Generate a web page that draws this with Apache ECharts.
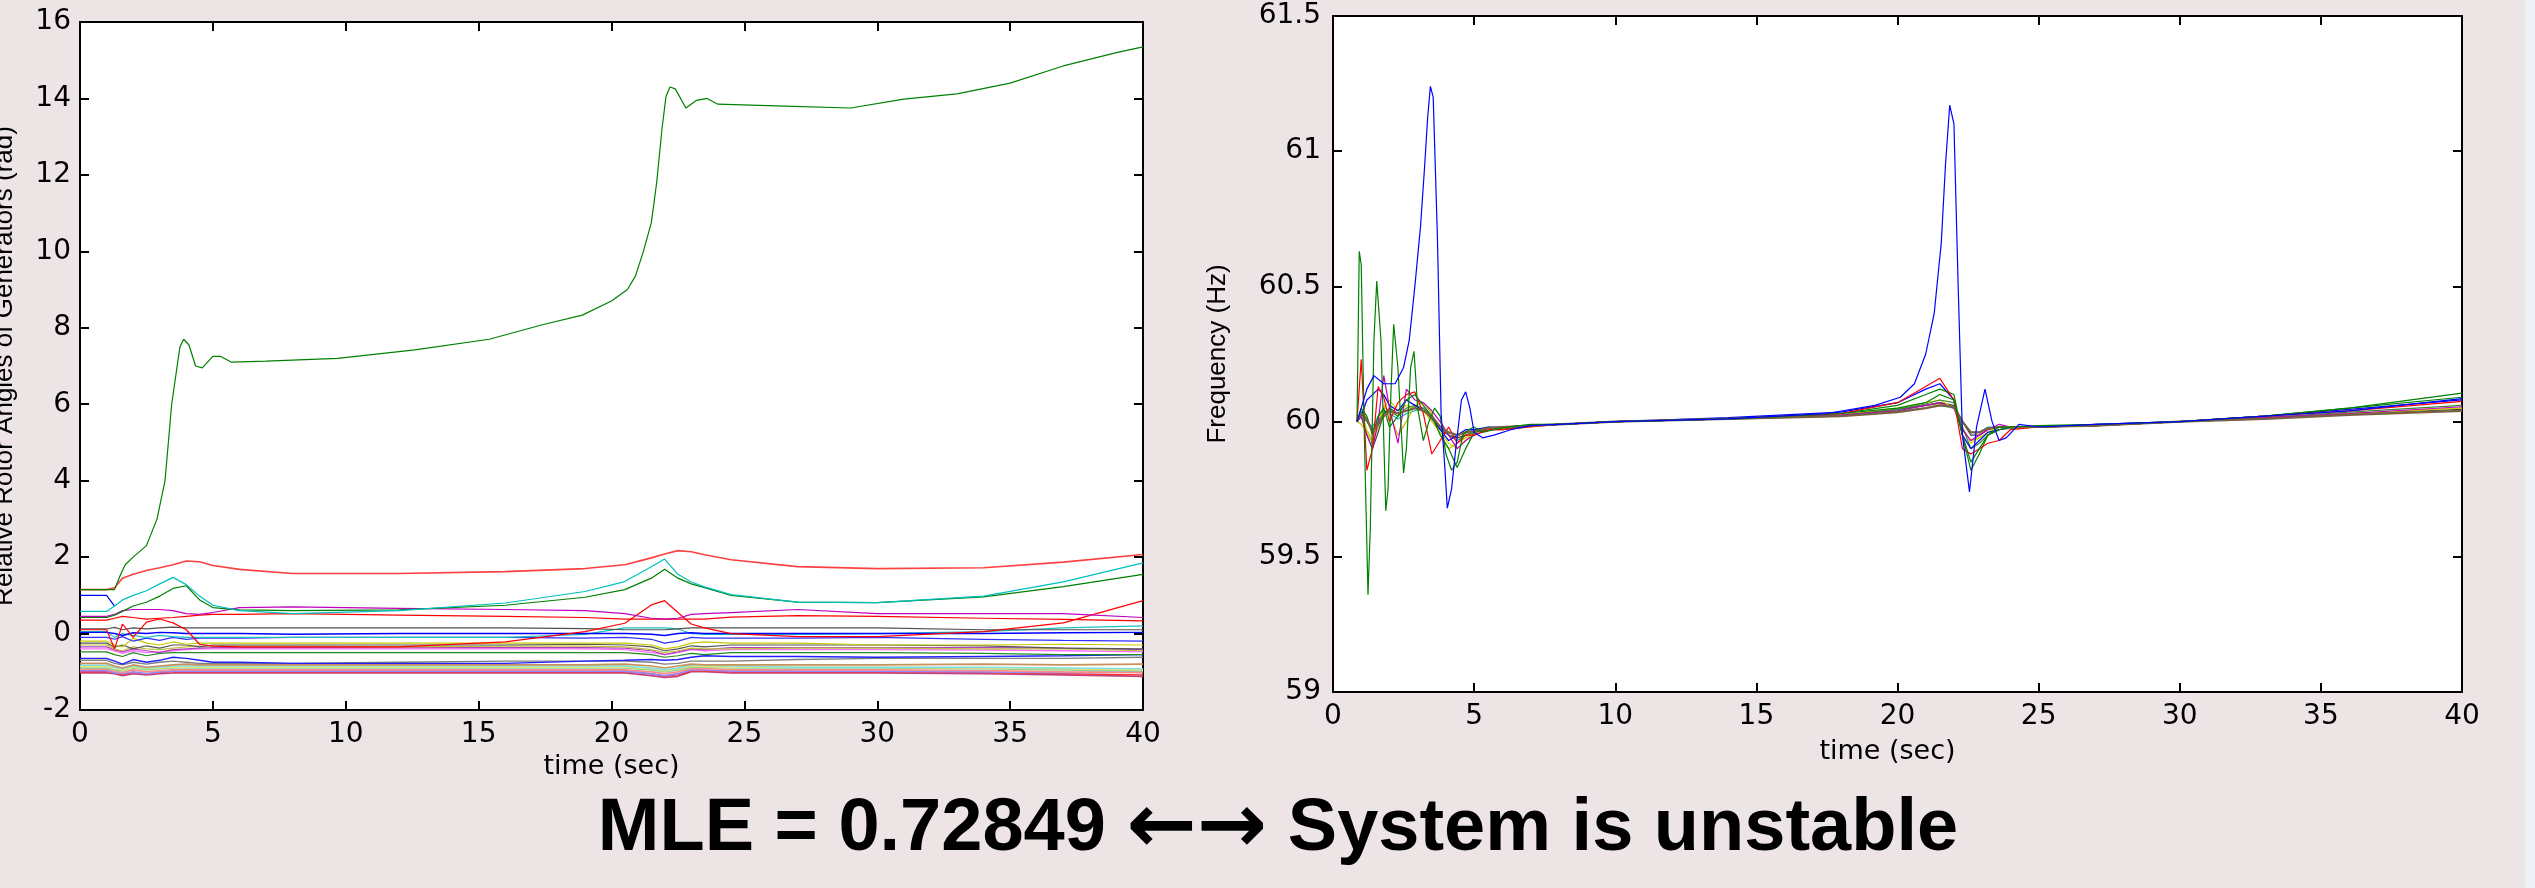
<!DOCTYPE html>
<html><head><meta charset="utf-8">
<script src="https://cdn.jsdelivr.net/npm/echarts/dist/echarts.min.js"></script>
<style>html,body{margin:0;padding:0;background:#ede4e5;}#c{width:2535px;height:888px;}</style>
</head><body><div id="c"></div>
<script>
// ---------------- DATA: left chart (relative rotor angles, rad) ----------------
const timeTicks = [0, 5, 10, 15, 20, 25, 30, 35, 40];
const angleTicks = [-2, 0, 2, 4, 6, 8, 10, 12, 14, 16];
const freqTicks = [59, 59.5, 60, 60.5, 61, 61.5];

const angleTime = [0, 1, 1.3, 1.6, 2, 2.5, 3, 3.5, 4, 4.5, 5, 6, 8, 12, 16, 19, 20.5, 21.5, 22, 22.5, 23, 23.5, 24.5, 27, 30, 34, 37, 40];

const angleBigGreenTime = [0, 1.3, 1.5, 1.7, 2.0, 2.5, 2.9, 3.2, 3.45, 3.76, 3.9, 4.1, 4.35, 4.6, 5.0, 5.3, 5.7, 7, 9.7, 12.6, 15.4, 17.4, 18.9, 20, 20.6, 20.9, 21.2, 21.5, 21.7, 21.9, 22.05, 22.2, 22.4, 22.8, 23.2, 23.6, 24, 26.5, 29, 31, 33, 35, 37, 39, 40];
const angleBigGreen = [1.15, 1.15, 1.5, 1.8, 2.0, 2.3, 3.0, 4.0, 6.0, 7.5, 7.7, 7.55, 7.0, 6.95, 7.25, 7.25, 7.1, 7.13, 7.2, 7.42, 7.7, 8.08, 8.33, 8.7, 9.0, 9.35, 10.0, 10.75, 11.8, 13.2, 14.05, 14.3, 14.25, 13.75, 13.95, 14.0, 13.85, 13.8, 13.75, 13.98, 14.12, 14.4, 14.85, 15.2, 15.35];

const angleBlueStartTime = [0, 1, 1.3];
const angleBlueStart = [1.0, 1.0, 0.72];

const angleRedTop  = [1.15, 1.15, 1.2, 1.45, 1.55, 1.65, 1.72, 1.8, 1.9, 1.88, 1.78, 1.68, 1.57, 1.57, 1.62, 1.7, 1.8, 1.98, 2.08, 2.17, 2.14, 2.06, 1.93, 1.75, 1.7, 1.72, 1.87, 2.07];
const angleCyanTop = [0.58, 0.58, 0.72, 0.88, 1.0, 1.12, 1.3, 1.47, 1.28, 0.98, 0.74, 0.6, 0.52, 0.6, 0.8, 1.1, 1.36, 1.75, 1.95, 1.55, 1.35, 1.22, 1.02, 0.82, 0.81, 0.98, 1.35, 1.85];
const angleGreen2  = [0.42, 0.42, 0.48, 0.58, 0.72, 0.82, 0.98, 1.18, 1.25, 0.88, 0.68, 0.62, 0.6, 0.62, 0.74, 0.95, 1.15, 1.45, 1.68, 1.45, 1.3, 1.2, 1.0, 0.82, 0.81, 0.96, 1.23, 1.55];
const angleMagenta = [0.45, 0.45, 0.5, 0.6, 0.63, 0.63, 0.63, 0.6, 0.52, 0.5, 0.55, 0.68, 0.7, 0.66, 0.63, 0.6, 0.52, 0.4, 0.38, 0.4, 0.5, 0.52, 0.55, 0.63, 0.52, 0.52, 0.52, 0.42];
const angleRed2    = [0.35, 0.35, 0.4, 0.45, 0.42, 0.38, 0.4, 0.42, 0.45, 0.48, 0.5, 0.5, 0.52, 0.48, 0.45, 0.42, 0.38, 0.38, 0.38, 0.38, 0.38, 0.38, 0.43, 0.47, 0.45, 0.4, 0.37, 0.33];
const angleRed3    = [0.1, 0.1, -0.4, 0.25, -0.1, 0.3, 0.38, 0.28, 0.1, -0.28, -0.33, -0.35, -0.35, -0.35, -0.22, 0.05, 0.27, 0.75, 0.86, 0.55, 0.25, 0.15, 0.0, -0.08, -0.08, 0.05, 0.28, 0.86];
const angleGray1   = [0.12, 0.12, 0.16, 0.1, 0.15, 0.12, 0.15, 0.17, 0.15, 0.15, 0.15, 0.15, 0.15, 0.15, 0.15, 0.13, 0.1, 0.1, 0.1, 0.12, 0.15, 0.15, 0.15, 0.15, 0.15, 0.1, 0.1, 0.1];
const angleBlue2   = [0.03, 0.03, 0.0, -0.05, 0.02, 0.0, 0.03, 0.02, 0.0, 0.0, 0.0, 0.0, -0.02, 0.0, 0.0, 0.0, 0.0, -0.02, -0.05, 0.0, 0.02, 0.0, 0.0, 0.0, 0.0, 0.0, 0.02, 0.03];
const angleCyan2   = [0.05, 0.05, -0.1, 0.0, -0.05, -0.1, -0.05, -0.08, -0.1, -0.1, -0.1, -0.1, -0.1, -0.1, -0.1, -0.02, 0.15, 0.15, 0.15, 0.12, 0.0, -0.02, -0.02, -0.02, 0.0, 0.05, 0.15, 0.2];
const angleBlue3   = [-0.1, -0.1, -0.15, -0.08, -0.2, -0.12, -0.18, -0.1, -0.15, -0.12, -0.12, -0.12, -0.1, -0.1, -0.1, -0.12, -0.1, -0.15, -0.25, -0.2, -0.1, -0.12, -0.12, -0.12, -0.1, -0.15, -0.18, -0.2];
const angleYellow1 = [-0.2, -0.2, -0.3, -0.35, -0.12, -0.25, -0.3, -0.22, -0.28, -0.25, -0.25, -0.25, -0.25, -0.25, -0.25, -0.25, -0.25, -0.3, -0.4, -0.35, -0.25, -0.22, -0.25, -0.25, -0.3, -0.3, -0.28, -0.3];
const angleGray2   = [-0.25, -0.25, -0.35, -0.3, -0.4, -0.32, -0.38, -0.3, -0.3, -0.35, -0.3, -0.3, -0.3, -0.3, -0.3, -0.28, -0.3, -0.35, -0.45, -0.4, -0.32, -0.35, -0.3, -0.3, -0.3, -0.32, -0.38, -0.4];
const angleOlive   = [-0.3, -0.3, -0.4, -0.45, -0.35, -0.4, -0.42, -0.38, -0.35, -0.33, -0.33, -0.33, -0.33, -0.35, -0.33, -0.33, -0.35, -0.42, -0.5, -0.45, -0.38, -0.4, -0.4, -0.38, -0.38, -0.4, -0.4, -0.45];
const angleViolet  = [-0.35, -0.35, -0.42, -0.48, -0.4, -0.45, -0.5, -0.42, -0.4, -0.38, -0.37, -0.37, -0.37, -0.37, -0.37, -0.37, -0.38, -0.45, -0.55, -0.48, -0.4, -0.42, -0.37, -0.37, -0.37, -0.37, -0.38, -0.42];
const anglePink1   = [-0.4, -0.4, -0.45, -0.52, -0.45, -0.5, -0.48, -0.45, -0.42, -0.4, -0.4, -0.4, -0.4, -0.4, -0.4, -0.4, -0.42, -0.5, -0.55, -0.5, -0.42, -0.45, -0.42, -0.42, -0.42, -0.43, -0.45, -0.48];
const angleGreen3  = [-0.48, -0.48, -0.55, -0.6, -0.5, -0.58, -0.52, -0.5, -0.5, -0.5, -0.5, -0.5, -0.5, -0.5, -0.5, -0.5, -0.5, -0.55, -0.62, -0.58, -0.52, -0.55, -0.5, -0.5, -0.5, -0.52, -0.55, -0.55];
const angleBlue4   = [-0.65, -0.65, -0.72, -0.8, -0.68, -0.75, -0.7, -0.62, -0.65, -0.7, -0.75, -0.75, -0.78, -0.78, -0.78, -0.72, -0.7, -0.68, -0.7, -0.68, -0.62, -0.58, -0.6, -0.6, -0.62, -0.6, -0.58, -0.55];
const angleGray3   = [-0.7, -0.7, -0.78, -0.82, -0.75, -0.8, -0.75, -0.72, -0.75, -0.78, -0.78, -0.78, -0.78, -0.75, -0.72, -0.72, -0.72, -0.75, -0.8, -0.78, -0.72, -0.72, -0.72, -0.68, -0.65, -0.65, -0.65, -0.62];
const angleTan     = [-0.78, -0.78, -0.85, -0.9, -0.82, -0.88, -0.85, -0.82, -0.8, -0.82, -0.82, -0.82, -0.82, -0.82, -0.82, -0.82, -0.8, -0.85, -0.9, -0.85, -0.8, -0.82, -0.82, -0.82, -0.82, -0.8, -0.82, -0.8];
const angleLtCyan  = [-0.83, -0.83, -0.88, -0.92, -0.85, -0.9, -0.88, -0.85, -0.85, -0.85, -0.85, -0.85, -0.85, -0.85, -0.85, -0.85, -0.85, -0.9, -0.95, -0.9, -0.82, -0.82, -0.85, -0.88, -0.88, -0.88, -0.9, -0.92];
const angleLtYellow= [-0.86, -0.86, -0.9, -0.95, -0.88, -0.92, -0.9, -0.88, -0.88, -0.88, -0.88, -0.88, -0.88, -0.88, -0.88, -0.88, -0.88, -0.92, -0.98, -0.92, -0.85, -0.86, -0.88, -0.88, -0.88, -0.9, -0.92, -0.95];
const angleLtGreen = [-0.9, -0.9, -0.95, -0.98, -0.9, -0.95, -0.92, -0.9, -0.9, -0.9, -0.9, -0.9, -0.9, -0.9, -0.9, -0.9, -0.9, -0.95, -1.0, -0.95, -0.88, -0.88, -0.9, -0.9, -0.9, -0.92, -0.95, -0.98];
const anglePink2   = [-0.93, -0.93, -0.98, -1.02, -0.95, -1.0, -0.97, -0.95, -0.95, -0.95, -0.95, -0.95, -0.95, -0.95, -0.95, -0.95, -0.95, -1.0, -1.05, -1.0, -0.92, -0.92, -0.95, -0.95, -0.95, -0.97, -1.0, -1.02];
const angleLtBlue  = [-0.97, -0.97, -1.02, -1.05, -1.0, -1.05, -1.0, -0.98, -0.98, -0.98, -0.98, -0.98, -0.98, -0.98, -0.98, -0.98, -0.98, -1.05, -1.1, -1.05, -0.95, -0.95, -0.98, -0.98, -0.98, -1.0, -1.02, -1.0];
const angleRed4    = [-1.0, -1.0, -1.03, -1.08, -1.02, -1.06, -1.02, -1.0, -1.0, -1.0, -1.0, -1.0, -1.0, -1.0, -1.0, -1.0, -1.0, -1.05, -1.12, -1.08, -0.98, -0.98, -1.0, -1.0, -1.0, -1.02, -1.05, -1.08];
const angleMaroon  = [-1.03, -1.03, -1.05, -1.1, -1.05, -1.08, -1.05, -1.03, -1.03, -1.03, -1.03, -1.03, -1.03, -1.03, -1.03, -1.03, -1.03, -1.1, -1.15, -1.12, -1.0, -1.0, -1.03, -1.03, -1.03, -1.05, -1.08, -1.12];

// ---------------- DATA: right chart (frequency, Hz) ----------------
const freqTime = [0.85, 1.0, 1.2, 1.4, 1.6, 1.8, 2.0, 2.3, 2.6, 2.9, 3.2, 3.5, 3.8, 4.1, 4.4, 4.7, 5.0, 5.5, 6, 7, 8, 10, 14, 18, 20, 21, 21.5, 22, 22.3, 22.6, 22.9, 23.2, 23.6, 24, 25, 27, 30, 33, 36, 40];

const freqBlueTime = [0.85, 1.0, 1.2, 1.45, 1.8, 2.2, 2.5, 2.7, 2.9, 3.1, 3.25, 3.35, 3.45, 3.55, 3.7, 3.83, 3.95, 4.05, 4.2, 4.35, 4.55, 4.7, 4.85, 5.0, 5.3, 5.7, 6.3, 7, 8, 10, 14, 17.5, 19.2, 20.1, 20.6, 21.0, 21.3, 21.55, 21.7, 21.85, 22.0, 22.15, 22.3, 22.55, 22.8, 23.1, 23.35, 23.6, 23.85, 24.3, 25, 27, 30, 33, 36, 40];
const freqBlue = [60.0, 60.05, 60.12, 60.17, 60.14, 60.14, 60.2, 60.3, 60.5, 60.72, 60.95, 61.12, 61.24, 61.2, 60.68, 60.03, 59.85, 59.68, 59.75, 59.9, 60.08, 60.11, 60.05, 59.96, 59.94, 59.95, 59.97, 59.985, 59.99, 60.0, 60.01, 60.03, 60.06, 60.09, 60.14, 60.25, 60.4, 60.66, 60.95, 61.17, 61.1, 60.5, 59.95, 59.74, 59.98, 60.12, 60.0, 59.93, 59.94, 59.99, 59.98, 59.99, 60.0, 60.02, 60.04, 60.085];

const freqGreenTime = [0.85, 0.93, 1.0, 1.1, 1.24, 1.32, 1.45, 1.55, 1.7, 1.87, 1.95, 2.05, 2.15, 2.3, 2.5, 2.6, 2.75, 2.87, 3.0, 3.2, 3.4, 3.6, 3.8, 4.0, 4.2, 4.4, 4.6, 4.8, 5.0, 5.3, 5.7, 6.2, 7, 8, 10, 14, 18, 20, 21, 21.5, 22, 22.3, 22.6, 22.9, 23.2, 23.6, 24, 25, 27, 30, 33, 36, 40];
const freqGreen = [60.0, 60.63, 60.58, 60.0, 59.36, 59.6, 60.3, 60.52, 60.3, 59.67, 59.75, 60.1, 60.36, 60.2, 59.81, 59.9, 60.2, 60.26, 60.05, 59.93, 60.0, 60.05, 60.02, 59.88, 59.82, 59.85, 59.95, 59.97, 59.98, 59.96, 59.97, 59.98, 59.99, 59.99, 60.0, 60.01, 60.03, 60.05, 60.07, 60.1, 60.08, 59.95, 59.85, 59.9, 59.95, 59.98, 59.98, 59.985, 59.99, 60.0, 60.02, 60.05, 60.09];

const freqRed      = [60.0, 60.23, 59.82, 59.9, 60.13, 60.09, 60.0, 60.07, 60.1, 60.11, 60.03, 59.88, 59.93, 59.98, 59.92, 59.95, 59.95, 59.97, 59.97, 59.98, 59.99, 60.0, 60.01, 60.03, 60.07, 60.13, 60.16, 60.08, 59.9, 59.88, 59.9, 59.92, 59.93, 59.97, 59.98, 59.985, 60.0, 60.02, 60.04, 60.075];
const freqMagenta  = [60.0, 60.02, 59.95, 59.9, 60.0, 60.17, 60.05, 59.92, 60.12, 60.08, 60.07, 60.04, 60.0, 59.95, 59.9, 59.93, 59.95, 59.97, 59.97, 59.985, 59.99, 60.0, 60.01, 60.025, 60.04, 60.06, 60.07, 60.05, 59.97, 59.93, 59.95, 59.97, 59.99, 59.98, 59.98, 59.985, 60.0, 60.015, 60.03, 60.055];
const freqGreen2   = [60.0, 60.05, 60.02, 59.95, 60.02, 60.05, 59.98, 60.02, 60.08, 60.1, 60.06, 60.02, 59.95, 59.9, 59.83, 59.9, 59.96, 59.98, 59.97, 59.985, 59.99, 60.0, 60.01, 60.03, 60.06, 60.1, 60.12, 60.1, 59.95, 59.82, 59.88, 59.95, 59.97, 59.98, 59.98, 59.985, 60.0, 60.02, 60.05, 60.105];
const freqBlue2    = [60.0, 60.02, 60.08, 60.1, 60.12, 60.1, 60.06, 60.04, 60.08, 60.06, 60.04, 60.02, 59.97, 59.93, 59.95, 59.97, 59.97, 59.98, 59.98, 59.985, 59.99, 60.0, 60.015, 60.035, 60.07, 60.12, 60.14, 60.08, 59.95, 59.9, 59.93, 59.96, 59.97, 59.98, 59.98, 59.99, 60.0, 60.02, 60.045, 60.08];
const freqYellow   = [60.0, 60.03, 59.97, 59.93, 60.0, 60.05, 60.08, 60.04, 60.06, 60.05, 60.04, 60.0, 59.96, 59.92, 59.9, 59.93, 59.96, 59.97, 59.975, 59.985, 59.99, 60.0, 60.01, 60.025, 60.05, 60.07, 60.08, 60.05, 59.98, 59.92, 59.94, 59.96, 59.98, 59.98, 59.98, 59.985, 60.0, 60.015, 60.03, 60.05];
const freqGray     = [60.0, 60.02, 59.95, 59.9, 59.96, 60.03, 60.05, 60.03, 60.04, 60.05, 60.04, 60.01, 59.97, 59.95, 59.94, 59.95, 59.96, 59.97, 59.975, 59.985, 59.99, 60.0, 60.01, 60.025, 60.045, 60.06, 60.07, 60.06, 60.0, 59.95, 59.95, 59.97, 59.98, 59.98, 59.98, 59.985, 60.0, 60.015, 60.03, 60.045];
const freqCyan     = [60.0, 60.04, 60.0, 59.98, 60.02, 60.04, 60.03, 60.01, 60.03, 60.04, 60.05, 60.02, 59.98, 59.96, 59.95, 59.96, 59.97, 59.975, 59.98, 59.985, 59.99, 60.0, 60.01, 60.02, 60.04, 60.05, 60.06, 60.05, 60.0, 59.96, 59.96, 59.98, 59.98, 59.98, 59.98, 59.985, 60.0, 60.01, 60.03, 60.04];
const freqOlive    = [60.0, 59.99, 59.96, 59.92, 59.98, 60.06, 60.03, 59.95, 60.0, 60.06, 60.07, 60.03, 59.95, 59.9, 59.92, 59.94, 59.96, 59.97, 59.975, 59.985, 59.99, 60.0, 60.01, 60.02, 60.04, 60.06, 60.065, 60.05, 59.97, 59.93, 59.94, 59.96, 59.98, 59.98, 59.98, 59.985, 60.0, 60.012, 60.028, 60.05];
const freqDkGreen  = [60.0, 60.02, 60.0, 59.97, 60.0, 60.03, 60.04, 60.02, 60.05, 60.06, 60.05, 60.02, 59.98, 59.95, 59.93, 59.95, 59.96, 59.97, 59.98, 59.985, 59.99, 60.0, 60.01, 60.022, 60.045, 60.065, 60.08, 60.07, 59.98, 59.9, 59.92, 59.95, 59.97, 59.975, 59.98, 59.985, 60.0, 60.015, 60.035, 60.06];
const freqBrown    = [60.0, 60.03, 60.01, 59.96, 59.99, 60.02, 60.04, 60.03, 60.04, 60.05, 60.04, 60.02, 59.98, 59.96, 59.95, 59.96, 59.965, 59.975, 59.98, 59.985, 59.99, 60.0, 60.01, 60.02, 60.035, 60.05, 60.06, 60.055, 60.0, 59.96, 59.96, 59.975, 59.98, 59.98, 59.98, 59.985, 60.0, 60.01, 60.025, 60.04];

// ---------------- build ----------------
function pairs(t, v) { return t.map((x, i) => [x, v[i]]); }

const leftSeriesDefs = [
  [angleTime, angleMaroon, '#c0407f', 1.6],
  [angleTime, angleRed4, '#ff3030', 1.4],
  [angleTime, angleLtBlue, '#8c8cff', 1.8],
  [angleTime, anglePink2, '#ff8c8c', 1.8],
  [angleTime, angleLtGreen, '#8fd08f', 1.6],
  [angleTime, angleLtYellow, '#e4e47a', 1.6],
  [angleTime, angleLtCyan, '#80e0e0', 1.6],
  [angleTime, angleTan, '#c8905a', 1.6],
  [angleTime, angleGray3, '#7f7f7f', 1.4],
  [angleTime, angleBlue4, '#2020ff', 1.4],
  [angleTime, angleGreen3, '#208a20', 1.2],
  [angleTime, anglePink1, '#ff70ff', 1.4],
  [angleTime, angleViolet, '#b040c0', 1.2],
  [angleTime, angleOlive, '#c0c040', 1.2],
  [angleTime, angleGray2, '#555555', 1.2],
  [angleTime, angleYellow1, '#c8c800', 1.2],
  [angleTime, angleBlue3, '#3030ff', 1.2],
  [angleTime, angleCyan2, '#20c0c0', 1.2],
  [angleTime, angleBlue2, '#0000ff', 1.4],
  [angleTime, angleGray1, '#505050', 1.2],
  [angleTime, angleRed3, '#ff0000', 1.2],
  [angleTime, angleRed2, '#ff0000', 1.2],
  [angleTime, angleMagenta, '#bf00bf', 1.2],
  [angleBlueStartTime, angleBlueStart, '#0000ff', 1.2],
  [angleTime, angleGreen2, '#008000', 1.2],
  [angleTime, angleCyanTop, '#00bfbf', 1.2],
  [angleTime, angleRedTop, '#ff4040', 1.6],
  [angleBigGreenTime, angleBigGreen, '#008000', 1.2]
];

const rightSeriesDefs = [
  [freqTime, freqCyan, '#00bfbf', 1.2],
  [freqTime, freqOlive, '#bfbf00', 1.2],
  [freqTime, freqGray, '#404040', 1.2],
  [freqTime, freqYellow, '#d0d000', 1.2],
  [freqTime, freqDkGreen, '#3a8a3a', 1.2],
  [freqTime, freqBlue2, '#0000ff', 1.2],
  [freqTime, freqMagenta, '#bf00bf', 1.2],
  [freqTime, freqGreen2, '#008000', 1.2],
  [freqTime, freqRed, '#ff0000', 1.2],
  [freqTime, freqBrown, '#7a6040', 2.2],
  [freqGreenTime, freqGreen, '#008000', 1.2],
  [freqBlueTime, freqBlue, '#0000ff', 1.2]
];

const series = [];
leftSeriesDefs.forEach((d, i) => series.push({
  type: 'line', xAxisIndex: 0, yAxisIndex: 0, data: pairs(d[0], d[1]),
  showSymbol: false, symbol: 'none', silent: true, z: 2 + i * 0.01,
  lineStyle: { color: d[2], width: d[3] }
}));
rightSeriesDefs.forEach((d, i) => series.push({
  type: 'line', xAxisIndex: 2, yAxisIndex: 2, data: pairs(d[0], d[1]),
  showSymbol: false, symbol: 'none', silent: true, z: 2 + i * 0.01,
  lineStyle: { color: d[2], width: d[3] }
}));

const HFONT = 'DejaVu Sans';
const VFONT = 'Liberation Sans';
const frameLine = { show: true, onZero: false, lineStyle: { color: '#000', width: 2 } };
const tick = { show: true, inside: true, length: 9, lineStyle: { color: '#000', width: 2 } };

function xMain(grid, gap, pad) {
  return {
    gridIndex: grid, type: 'value', position: 'bottom', min: timeTicks[0], max: timeTicks[timeTicks.length - 1], interval: 5,
    axisLine: frameLine, axisTick: tick, splitLine: { show: false },
    axisLabel: { color: '#000', fontSize: 28, fontFamily: HFONT, margin: 11 },
    name: 'time (sec)', nameLocation: 'middle', nameGap: gap,
    nameTextStyle: { color: '#000', fontSize: 27, fontFamily: HFONT, padding: pad }
  };
}
function xTop(grid) {
  return {
    gridIndex: grid, type: 'value', position: 'top', min: timeTicks[0], max: timeTicks[timeTicks.length - 1], interval: 5,
    axisLine: frameLine, axisTick: tick, axisLabel: { show: false }, splitLine: { show: false }
  };
}
function yMain(grid, mn, mx, iv, name, gap, margin, nameSize) {
  return {
    gridIndex: grid, type: 'value', position: 'left', min: mn, max: mx, interval: iv,
    axisLine: frameLine, axisTick: tick, splitLine: { show: false },
    axisLabel: { color: '#000', fontSize: 28, fontFamily: HFONT, margin: margin },
    name: name, nameLocation: 'middle', nameGap: gap,
    nameTextStyle: { color: '#000', fontSize: nameSize, fontFamily: VFONT }
  };
}
function yRight(grid, mn, mx, iv) {
  return {
    gridIndex: grid, type: 'value', position: 'right', min: mn, max: mx, interval: iv,
    axisLine: frameLine, axisTick: tick, axisLabel: { show: false }, splitLine: { show: false }
  };
}

const option = {
  animation: false,
  backgroundColor: '#ede4e5',
  grid: [
    { left: 80, top: 22, width: 1063, height: 688, show: true, backgroundColor: '#ffffff', borderWidth: 0,
      containLabel: false, outerBoundsMode: 'none' },
    { left: 1333, top: 16, width: 1129, height: 676, show: true, backgroundColor: '#ffffff', borderWidth: 0,
      containLabel: false, outerBoundsMode: 'none' }
  ],
  xAxis: [xMain(0, 40, [0, 0, 0, 0]), xTop(0), xMain(1, 46, [0, 20, 0, 0]), xTop(1)],
  yAxis: [
    yMain(0, angleTicks[0], angleTicks[angleTicks.length - 1], 2, 'Relative Rotor Angles of Generators (rad)', 62, 9, 26),
    yRight(0, angleTicks[0], angleTicks[angleTicks.length - 1], 2),
    yMain(1, freqTicks[0], freqTicks[freqTicks.length - 1], 0.5, 'Frequency (Hz)', 102, 12, 26),
    yRight(1, freqTicks[0], freqTicks[freqTicks.length - 1], 0.5)
  ],
  series: series,
  graphic: [
    { type: 'rect', shape: { x: 2525, y: 0, width: 10, height: 888 }, style: { fill: '#eef2f6' }, silent: true },
    { type: 'text', x: 1278, y: 830, silent: true,
      style: { text: '{a|MLE = 0.72849 }{b|\u2190\u2192}{a| System is unstable}', fill: '#000',
               align: 'center', verticalAlign: 'middle',
               rich: {
                 a: { fontSize: 74, fontWeight: 'bold', fontFamily: '"Liberation Sans", Arial, sans-serif', fill: '#000' },
                 b: { fontSize: 84, fontWeight: 'bold', fontFamily: '"DejaVu Sans", sans-serif', fill: '#000' }
               } } }
  ]
};

const chart = echarts.init(document.getElementById('c'), null, { renderer: 'canvas', width: 2535, height: 888 });
chart.setOption(option);
</script></body></html>
